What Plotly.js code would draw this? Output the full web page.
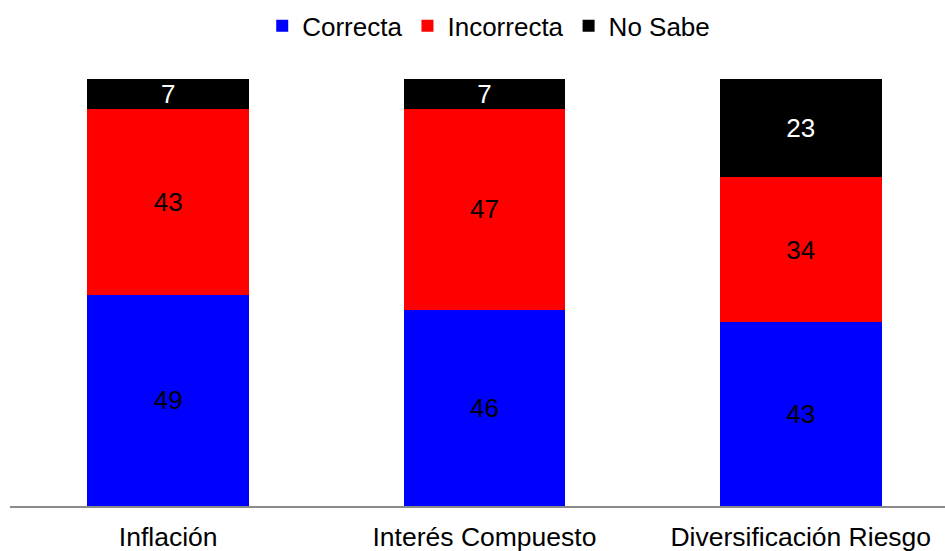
<!DOCTYPE html>
<html>
<head>
<meta charset="utf-8">
<script src="https://cdn.plot.ly/plotly-3.0.1.min.js"></script>
<style>
  html, body { margin: 0; padding: 0; background: #ffffff; }
  #chart { width: 945px; height: 551px; }
</style>
</head>
<body>
<div id="chart"></div>
<script>
// Conocimiento financiero: respuestas por tema (%)
const categories = ['Inflación', 'Interés Compuesto', 'Diversificación Riesgo'];
const seriesNames = ['Correcta', 'Incorrecta', 'No Sabe'];
const correcta = [49, 46, 43];
const incorrecta = [43, 47, 34];
const noSabe = [7, 7, 23];

const seriesValues = [correcta, incorrecta, noSabe];
const seriesColors = ['#0000ff', '#ff0000', '#000000'];
const labelColors = ['#000000', '#000000', '#ffffff'];

const FONT = '"Liberation Sans", Arial, Helvetica, sans-serif';

const traces = seriesValues.map((vals, i) => ({
  type: 'bar',
  name: seriesNames[i],
  x: categories,
  y: vals,
  text: vals.map(String),
  texttemplate: '%{text}',
  textposition: 'inside',
  insidetextanchor: 'middle',
  textangle: 0,
  constraintext: 'none',
  textfont: { family: FONT, size: 26, color: labelColors[i] },
  marker: { color: seriesColors[i], line: { width: 0 } },
  hoverinfo: 'skip'
}));

const layout = {
  width: 945,
  height: 551,
  margin: { l: 10, r: 0, t: 79, b: 45 },
  paper_bgcolor: '#ffffff',
  plot_bgcolor: '#ffffff',
  barmode: 'stack',
  barnorm: 'percent',
  bargap: 0.489,
  showlegend: true,
  legend: {
    orientation: 'h',
    x: 0.512,
    xanchor: 'center',
    y: 0.953,
    yanchor: 'middle',
    yref: 'container',
    font: { family: FONT, size: 26, color: '#000000' },
    traceorder: 'normal',
    itemclick: false,
    itemdoubleclick: false
  },
  xaxis: {
    type: 'category',
    range: [-0.5, 2.456],
    showline: true,
    linecolor: '#8a8a8a',
    linewidth: 1.5,
    showgrid: false,
    zeroline: false,
    ticks: '',
    ticklabelstandoff: 7,
    tickfont: { family: FONT, size: 26.5, color: '#000000' },
    fixedrange: true
  },
  yaxis: {
    range: [0, 100],
    visible: false,
    showgrid: false,
    zeroline: false,
    fixedrange: true
  }
};

Plotly.newPlot('chart', traces, layout, { displayModeBar: false, staticPlot: true });
</script>
</body>
</html>
